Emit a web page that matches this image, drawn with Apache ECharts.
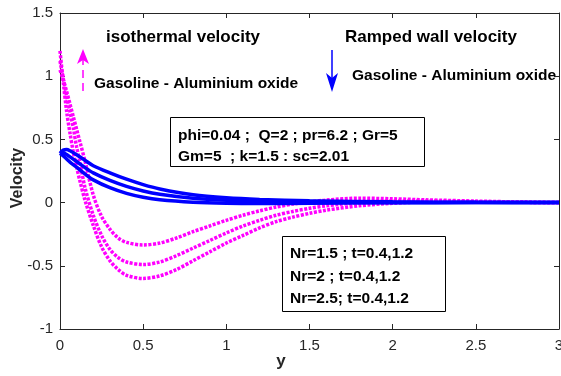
<!DOCTYPE html>
<html>
<head>
<meta charset="utf-8">
<script src="https://cdn.jsdelivr.net/npm/echarts@6/dist/echarts.min.js"></script>
<style>
html,body{margin:0;padding:0;background:#fff;overflow:hidden;}
#chart{width:561px;height:376px;}
</style>
</head>
<body>
<div id="chart"></div>
<script>
// x positions for the magenta (isothermal) curves
var xMag = [0, 0.02, 0.04, 0.06, 0.08, 0.1, 0.12, 0.15, 0.2, 0.25, 0.3, 0.35, 0.4, 0.5, 0.6, 0.7, 0.8, 0.9, 1.0, 1.1, 1.2, 1.3, 1.4, 1.5, 1.6, 1.8, 2.0, 2.2, 2.5, 2.8, 3.0];
var magA = [1.05, 0.97, 0.88, 0.78, 0.68, 0.58, 0.48, 0.33, 0.06, -0.11, -0.21, -0.28, -0.315, -0.335, -0.32, -0.28, -0.23, -0.185, -0.14, -0.10, -0.065, -0.035, -0.012, 0.005, 0.02, 0.035, 0.03, 0.022, 0.012, 0.004, 0];
var magB = [1.12, 0.98, 0.84, 0.72, 0.59, 0.44, 0.32, 0.12, -0.1, -0.26, -0.37, -0.435, -0.47, -0.49, -0.47, -0.42, -0.36, -0.30, -0.24, -0.185, -0.14, -0.10, -0.07, -0.045, -0.025, 0.0, 0.012, 0.012, 0.007, 0.002, 0];
var magC = [1.2, 0.95, 0.72, 0.55, 0.4, 0.28, 0.17, 0.02, -0.18, -0.35, -0.46, -0.53, -0.575, -0.60, -0.58, -0.53, -0.46, -0.39, -0.32, -0.26, -0.20, -0.15, -0.115, -0.085, -0.06, -0.025, -0.005, 0.005, 0.005, 0.002, 0];
// x positions for the blue (ramped wall) curves
var xBlue = [0, 0.02, 0.04, 0.06, 0.1, 0.15, 0.2, 0.3, 0.4, 0.5, 0.6, 0.8, 1.0, 1.2, 1.5, 2.0, 2.5, 3.0];
var blue1 = [0.39, 0.415, 0.42, 0.41, 0.378, 0.335, 0.292, 0.235, 0.185, 0.142, 0.108, 0.062, 0.038, 0.025, 0.014, 0.006, 0.002, 0];
var blue2 = [0.40, 0.395, 0.38, 0.362, 0.325, 0.277, 0.235, 0.175, 0.128, 0.092, 0.066, 0.034, 0.018, 0.01, 0.004, 0.001, 0, 0];
var blue3 = [0.39, 0.37, 0.345, 0.32, 0.28, 0.227, 0.18, 0.118, 0.073, 0.042, 0.022, 0.003, -0.005, -0.007, -0.005, -0.002, 0, 0];
// tick labels
var xTicks = ['0', '0.5', '1', '1.5', '2', '2.5', '3'];
var yTicks = ['-1', '-0.5', '0', '0.5', '1', '1.5'];

function pairs(xs, ys) { return xs.map(function (x, i) { return [x, ys[i]]; }); }

var FONT = '"Liberation Sans", Arial, Helvetica, sans-serif';
var AX = '#262626';
var chart = echarts.init(document.getElementById('chart'), null, {renderer: 'canvas', width: 561, height: 376});

function xAxisCfg(pos, labels) {
  return {
    type: 'value', min: 0, max: 3, interval: 0.5, position: pos,
    axisLine: {show: true, onZero: false, lineStyle: {color: AX, width: 1}},
    axisTick: {show: true, inside: true, length: 5, lineStyle: {color: AX}},
    axisLabel: {show: labels, fontSize: 15, color: AX, fontFamily: FONT, margin: 9,
      formatter: function (v) { return xTicks[Math.round(v / 0.5)]; }},
    splitLine: {show: false}
  };
}
function yAxisCfg(pos, labels) {
  return {
    type: 'value', min: -1, max: 1.5, interval: 0.5, position: pos,
    axisLine: {show: true, onZero: false, lineStyle: {color: AX, width: 1}},
    axisTick: {show: true, inside: true, length: 5, lineStyle: {color: AX}},
    axisLabel: {show: labels, fontSize: 15, color: AX, fontFamily: FONT, margin: 7,
      formatter: function (v) { return yTicks[Math.round((v + 1) / 0.5)]; }},
    splitLine: {show: false}
  };
}

var magStyle = {color: '#ff00ff', width: 3.5, type: [3, 1.5], cap: 'butt'};
var blueStyle = {color: '#0000ff', width: 3.5};

function ser(xs, ys, style, z) {
  return {type: 'line', data: pairs(xs, ys), showSymbol: false, smooth: 0.3,
    lineStyle: style, itemStyle: {color: style.color}, z: z, clip: true, animation: false};
}

chart.setOption({
  animation: false,
  backgroundColor: '#fff',
  grid: {left: 60, top: 13, width: 499, height: 316, containLabel: false, outerBoundsMode: 'none'},
  xAxis: [xAxisCfg('bottom', true), xAxisCfg('top', false)],
  yAxis: [yAxisCfg('left', true), yAxisCfg('right', false)],
  series: [
    ser(xMag, magA, magStyle, 2),
    ser(xMag, magB, magStyle, 2),
    ser(xMag, magC, magStyle, 2),
    ser(xBlue, blue1, blueStyle, 3),
    ser(xBlue, blue2, blueStyle, 3),
    ser(xBlue, blue3, blueStyle, 3)
  ],
  graphic: [
    // axis names
    {type: 'text', x: 18, y: 178, rotation: Math.PI / 2, z: 100,
      style: {text: 'Velocity', font: 'bold 16px ' + FONT, fill: AX, textAlign: 'center', textVerticalAlign: 'middle'}},
    {type: 'text', x: 281, y: 361, z: 100,
      style: {text: 'y', font: 'bold 17px ' + FONT, fill: AX, textAlign: 'center', textVerticalAlign: 'middle'}},
    // headings
    {type: 'text', x: 106, y: 37, z: 100, style: {text: 'isothermal velocity', font: 'bold 17px ' + FONT, fill: '#000', textVerticalAlign: 'middle'}},
    {type: 'text', x: 345, y: 37, z: 100, style: {text: 'Ramped wall velocity', font: 'bold 17px ' + FONT, fill: '#000', textVerticalAlign: 'middle'}},
    {type: 'text', x: 94, y: 84, z: 100, style: {text: 'Gasoline - Aluminium oxide', font: 'bold 15.5px ' + FONT, fill: '#000', textVerticalAlign: 'middle'}},
    {type: 'text', x: 352, y: 76, z: 100, style: {text: 'Gasoline - Aluminium oxide', font: 'bold 15.5px ' + FONT, fill: '#000', textVerticalAlign: 'middle'}},
    // magenta dashed arrow (up)
    {type: 'line', z: 100, shape: {x1: 83, y1: 91, x2: 83, y2: 60},
      style: {stroke: '#ff00ff', lineWidth: 1.5, lineDash: [8, 5]}},
    {type: 'polygon', z: 100, shape: {points: [[83, 49], [89, 64], [83, 60], [77, 64]]},
      style: {fill: '#ff00ff'}},
    // blue arrow (down)
    {type: 'line', z: 100, shape: {x1: 332, y1: 50, x2: 332, y2: 82},
      style: {stroke: '#0000ff', lineWidth: 1.5}},
    {type: 'polygon', z: 100, shape: {points: [[332, 92], [338, 73], [332, 78], [326, 73]]},
      style: {fill: '#0000ff'}},
    // parameter box 1
    {type: 'rect', z: 99, shape: {x: 170.5, y: 117.5, width: 254, height: 49},
      style: {fill: '#fff', stroke: '#000', lineWidth: 1}},
    {type: 'text', x: 178, y: 136, z: 100, style: {text: 'phi=0.04 ;  Q=2 ; pr=6.2 ; Gr=5', font: 'bold 15.5px ' + FONT, fill: '#000', textVerticalAlign: 'middle'}},
    {type: 'text', x: 178, y: 157, z: 100, style: {text: 'Gm=5  ; k=1.5 : sc=2.01', font: 'bold 15.5px ' + FONT, fill: '#000', textVerticalAlign: 'middle'}},
    // parameter box 2
    {type: 'rect', z: 99, shape: {x: 282.5, y: 236.5, width: 163, height: 75},
      style: {fill: '#fff', stroke: '#000', lineWidth: 1}},
    {type: 'text', x: 290, y: 254, z: 100, style: {text: 'Nr=1.5 ; t=0.4,1.2', font: 'bold 15.5px ' + FONT, fill: '#000', textVerticalAlign: 'middle'}},
    {type: 'text', x: 290, y: 277, z: 100, style: {text: 'Nr=2 ; t=0.4,1.2', font: 'bold 15.5px ' + FONT, fill: '#000', textVerticalAlign: 'middle'}},
    {type: 'text', x: 290, y: 299, z: 100, style: {text: 'Nr=2.5; t=0.4,1.2', font: 'bold 15.5px ' + FONT, fill: '#000', textVerticalAlign: 'middle'}}
  ]
});
</script>
</body>
</html>
